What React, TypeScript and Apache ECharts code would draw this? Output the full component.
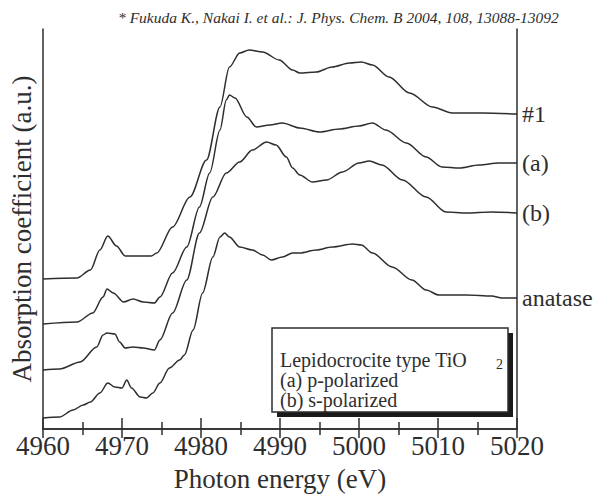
import React, { useEffect, useRef } from "react";
import * as echarts from "echarts";

// Photon energy (eV) and absorption (a.u., vertically offset traces)
const energy1 = [4960, 4964.3, 4966, 4967.2, 4968.2, 4969.3, 4970.4, 4972, 4973.7, 4974.4, 4976.4, 4978.6, 4980.7, 4982.4, 4983.6, 4984.9, 4986.1, 4987.8, 4989.9, 4991.6, 4992.5, 4994.6, 4996.6, 4998.8, 5000.3, 5001.7, 5003.8, 5006.4, 5009.3, 5011.8, 5015.6, 5020];
const absorb1 = [150, 151, 159, 179, 193, 183, 173, 173, 173, 176, 202, 232, 269, 322, 362, 376, 379, 377, 369, 359, 356, 357, 362, 366, 367, 364, 352, 336, 322, 316, 316, 315];

const energyA = [4960, 4964.3, 4966.3, 4967.6, 4968.1, 4968.9, 4970.2, 4971.4, 4972.7, 4974.1, 4974.8, 4976.4, 4978.2, 4979.8, 4981.1, 4982.4, 4983.2, 4983.6, 4984.3, 4985.8, 4987, 4988.7, 4990.3, 4992.5, 4995, 4997.5, 5000, 5001.7, 5003.4, 5006, 5008.5, 5010.5, 5012.7, 5015.2, 5017.7, 5020];
const absorbA = [105, 107, 116, 132, 140, 136, 127, 130, 127, 126, 132, 156, 182, 222, 256, 299, 329, 334, 331, 312, 302, 304, 306, 301, 297, 300, 303, 306, 299, 286, 272, 262, 261, 264, 266, 266];

const energyB = [4960, 4962.1, 4964.7, 4966.8, 4967.6, 4968.1, 4969.1, 4969.7, 4970.4, 4971.4, 4972.7, 4974.1, 4974.8, 4976.4, 4978.2, 4979.8, 4981.5, 4983.2, 4984.9, 4986.5, 4988.3, 4989.5, 4990.8, 4991.6, 4992.5, 4994.1, 4995.9, 4997.9, 5000, 5001.3, 5002.9, 5005.5, 5008.5, 5011, 5013.6, 5016.8, 5020];
const absorbB = [59, 60, 67, 82, 94, 96, 95, 87, 81, 82, 81, 79, 89, 116, 149, 196, 232, 256, 267, 279, 287, 284, 272, 261, 254, 247, 249, 257, 266, 268, 264, 249, 232, 217, 216, 217, 216];

const energyAn = [4960, 4962.1, 4963.8, 4965.1, 4966, 4967.2, 4968.2, 4969.1, 4970, 4970.6, 4971.2, 4972.3, 4973.1, 4973.9, 4974.8, 4976, 4977.3, 4977.9, 4979, 4980.2, 4981.5, 4982.4, 4983, 4983.6, 4984.9, 4986.5, 4987.8, 4988.9, 4990.3, 4991.6, 4992.5, 4994.6, 4996.6, 4999.2, 5000.3, 5001.7, 5004.2, 5006.7, 5008.5, 5010.1, 5013.6, 5016.8, 5018.1, 5020];
const absorbAn = [11, 12, 19, 24, 27, 36, 46, 42, 41, 49, 41, 32, 31, 36, 46, 61, 69, 74, 99, 136, 172, 192, 196, 192, 182, 179, 174, 169, 172, 176, 176, 179, 182, 185, 184, 176, 162, 149, 139, 134, 134, 133, 131, 131];

const traceNames = ["#1", "(a)", "(b)", "anatase"];
const legendLines = ["Lepidocrocite type TiO", "(a) p-polarized", "(b) s-polarized"];
const citation = "* Fukuda K., Nakai I. et al.: J. Phys. Chem. B 2004, 108, 13088-13092";

const SERIF = "Liberation Serif";
const INK = "#2e2e2e";

function pairs(xs: number[], ys: number[]) {
  return xs.map((x, i) => [x, ys[i]]);
}

export default function App() {
  const ref = useRef<HTMLDivElement>(null);

  useEffect(() => {
    document.body.style.margin = "0";
    if (!ref.current) return;
    const chart = echarts.init(ref.current, null, { renderer: "svg" });

    const traces = [
      pairs(energy1, absorb1),
      pairs(energyA, absorbA),
      pairs(energyB, absorbB),
      pairs(energyAn, absorbAn),
    ];

    const xBase = {
      type: "value",
      min: 4960,
      max: 5020,
      interval: 10,
      axisLine: { show: true, lineStyle: { color: INK, width: 1.5 } },
      axisTick: { show: true, inside: true, length: 11, lineStyle: { color: INK, width: 1.5 } },
      minorTick: { show: true, splitNumber: 2, length: 7, lineStyle: { color: INK, width: 1.5 } },
      splitLine: { show: false },
      minorSplitLine: { show: false },
    };

    const yBase = {
      type: "value",
      min: 0,
      max: 400,
      axisLine: { show: true, onZero: false, lineStyle: { color: INK, width: 1.5 } },
      axisTick: { show: false },
      axisLabel: { show: false },
      splitLine: { show: false },
    };

    const legendTexts = legendLines.map((line, i) => ({
      type: "text",
      x: 280,
      y: 350 + i * 20,
      z: 12,
      style: { text: line, fontFamily: SERIF, fontSize: 20, fill: INK },
    }));

    chart.setOption({
      animation: false,
      backgroundColor: "#ffffff",
      grid: { left: 43, right: 81, top: 29, bottom: 68 },
      xAxis: [
        {
          ...xBase,
          position: "bottom",
          name: "Photon energy (eV)",
          nameLocation: "middle",
          nameGap: 36,
          nameTextStyle: { fontFamily: SERIF, fontSize: 27, color: INK },
          axisLabel: {
            show: true,
            margin: 3,
            fontFamily: SERIF,
            fontSize: 27,
            color: INK,
            formatter: (v: number) => String(v),
          },
        },
        {
          ...xBase,
          position: "top",
          axisTick: { ...xBase.axisTick, length: 9 },
          minorTick: { ...xBase.minorTick, length: 6 },
          axisLabel: { show: false },
        },
      ],
      yAxis: [
        {
          ...yBase,
          position: "left",
          name: "Absorption coefficient (a.u.)",
          nameLocation: "middle",
          nameRotate: 90,
          nameGap: 8,
          nameTextStyle: { fontFamily: SERIF, fontSize: 27, color: INK },
        },
        { ...yBase, position: "right" },
      ],
      series: traces.map((data, i) => ({
        type: "line",
        name: traceNames[i],
        data,
        xAxisIndex: 0,
        yAxisIndex: 0,
        showSymbol: false,
        smooth: 0.3,
        smoothMonotone: "x",
        lineStyle: { color: INK, width: 1.5 },
        endLabel: {
          show: true,
          formatter: "{a}",
          distance: 5,
          fontFamily: SERIF,
          fontSize: 24,
          color: INK,
        },
      })),
      graphic: [
        {
          type: "text",
          left: 118,
          top: 9,
          style: {
            text: citation,
            fontFamily: SERIF,
            fontStyle: "italic",
            fontSize: 15.5,
            fill: INK,
          },
        },
        // legend box with a drop shadow
        {
          type: "rect",
          shape: { x: 277, y: 333, width: 236, height: 84 },
          style: { fill: "#1a1a1a" },
          z: 10,
        },
        {
          type: "rect",
          shape: { x: 272, y: 328, width: 236, height: 84 },
          style: { fill: "#ffffff", stroke: INK, lineWidth: 1.5 },
          z: 11,
        },
        ...legendTexts,
        {
          type: "text",
          x: 496,
          y: 357,
          z: 12,
          style: { text: "2", fontFamily: SERIF, fontSize: 14, fill: INK },
        },
      ],
    });

    return () => chart.dispose();
  }, []);

  return <div ref={ref} style={{ width: 598, height: 497 }} />;
}
